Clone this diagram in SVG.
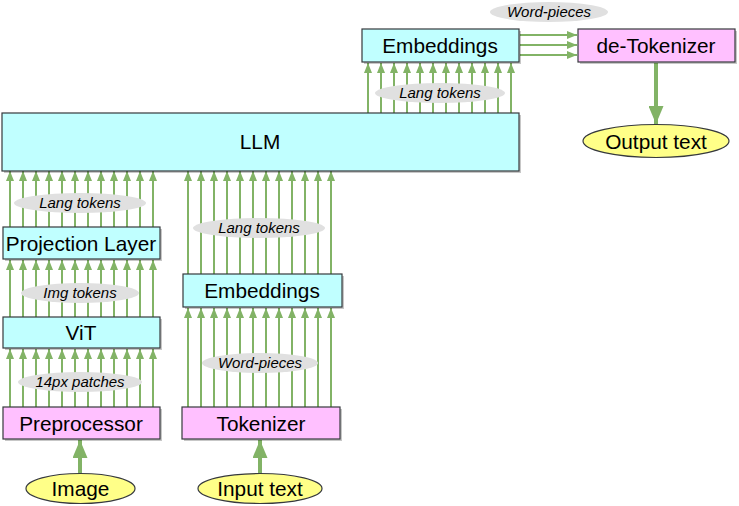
<svg xmlns="http://www.w3.org/2000/svg" width="739" height="506" viewBox="0 0 739 506">
<style>
.box{stroke:#36393d;stroke-width:1.2}
.sh{fill:#000;opacity:0.22}
.cy{fill:#c0ffff}
.pk{fill:#ffc0ff}
.el{fill:#ffff88;stroke:#36393d;stroke-width:1.2}
.t{font-family:"Liberation Sans",Arial,sans-serif;font-size:20.8px;fill:#000;text-anchor:middle}
.lb{font-family:"Liberation Sans",Arial,sans-serif;font-size:15px;font-style:italic;fill:#000;text-anchor:middle}
.lbe{fill:#e0e0e0}
.a{stroke:#82b366;stroke-width:2;fill:none}
.ab{stroke:#82b366;stroke-width:4;fill:none}
</style>
<defs>
<marker id="ah" viewBox="0 0 10 8" refX="10" refY="4" markerWidth="5" markerHeight="4.2" orient="auto" markerUnits="strokeWidth">
<path d="M0,0 L10,4 L0,8 Z" fill="#82b366"/>
</marker>
<marker id="ahb" viewBox="0 0 18 15" refX="18" refY="7.5" markerWidth="4.5" markerHeight="3.75" orient="auto" markerUnits="strokeWidth">
<path d="M0,0 L18,7.5 L0,15 Z" fill="#82b366"/>
</marker>
</defs>

<g id="connectors">
<g marker-end="url(#ah)" class="a">
<path d="M10,407V349"/><path d="M23,407V349"/><path d="M36,407V349"/><path d="M49,407V349"/><path d="M62,407V349"/><path d="M75,407V349"/><path d="M88,407V349"/><path d="M101,407V349"/><path d="M114,407V349"/><path d="M127,407V349"/><path d="M140,407V349"/><path d="M153,407V349"/>
</g>
<g marker-end="url(#ah)" class="a">
<path d="M10,317V260"/><path d="M23,317V260"/><path d="M36,317V260"/><path d="M49,317V260"/><path d="M62,317V260"/><path d="M75,317V260"/><path d="M88,317V260"/><path d="M101,317V260"/><path d="M114,317V260"/><path d="M127,317V260"/><path d="M140,317V260"/><path d="M153,317V260"/>
</g>
<g marker-end="url(#ah)" class="a">
<path d="M10,227V171"/><path d="M23,227V171"/><path d="M36,227V171"/><path d="M49,227V171"/><path d="M62,227V171"/><path d="M75,227V171"/><path d="M88,227V171"/><path d="M101,227V171"/><path d="M114,227V171"/><path d="M127,227V171"/><path d="M140,227V171"/><path d="M153,227V171"/>
</g>
<g marker-end="url(#ah)" class="a">
<path d="M188,407V308"/><path d="M201,407V308"/><path d="M214,407V308"/><path d="M227,407V308"/><path d="M240,407V308"/><path d="M253,407V308"/><path d="M266,407V308"/><path d="M279,407V308"/><path d="M292,407V308"/><path d="M305,407V308"/><path d="M318,407V308"/><path d="M331,407V308"/>
</g>
<g marker-end="url(#ah)" class="a">
<path d="M188,274V171"/><path d="M201,274V171"/><path d="M214,274V171"/><path d="M227,274V171"/><path d="M240,274V171"/><path d="M253,274V171"/><path d="M266,274V171"/><path d="M279,274V171"/><path d="M292,274V171"/><path d="M305,274V171"/><path d="M318,274V171"/><path d="M331,274V171"/>
</g>
<g marker-end="url(#ah)" class="a">
<path d="M368,113V63"/><path d="M381,113V63"/><path d="M394,113V63"/><path d="M407,113V63"/><path d="M420,113V63"/><path d="M433,113V63"/><path d="M446,113V63"/><path d="M459,113V63"/><path d="M472,113V63"/><path d="M485,113V63"/><path d="M498,113V63"/><path d="M511,113V63"/>
</g>
<g marker-end="url(#ah)" class="a">
<path d="M520,35H577"/><path d="M520,45H577"/><path d="M520,55H577"/>
</g>
<path class="ab" marker-end="url(#ahb)" d="M80,474V440"/>
<path class="ab" marker-end="url(#ahb)" d="M260,474V440"/>
<path class="ab" marker-end="url(#ahb)" d="M656,63V124"/>
</g>

<g id="labels">
<ellipse class="lbe" cx="80" cy="203" rx="66" ry="10"/>
<text class="lb" x="80" y="208">Lang tokens</text>
<ellipse class="lbe" cx="80" cy="293" rx="59" ry="10"/>
<text class="lb" x="80" y="298">Img tokens</text>
<ellipse class="lbe" cx="80" cy="382" rx="62" ry="10"/>
<text class="lb" x="80" y="387">14px patches</text>
<ellipse class="lbe" cx="259" cy="228" rx="66" ry="10"/>
<text class="lb" x="259" y="233">Lang tokens</text>
<ellipse class="lbe" cx="260" cy="363" rx="58" ry="10"/>
<text class="lb" x="260" y="368">Word-pieces</text>
<ellipse class="lbe" cx="440" cy="93" rx="65" ry="10"/>
<text class="lb" x="440" y="98">Lang tokens</text>
<ellipse class="lbe" cx="549" cy="12" rx="59" ry="10"/>
<text class="lb" x="549" y="17">Word-pieces</text>
</g>

<g id="llm">
<rect class="sh" x="4" y="115" width="517" height="58"/>
<rect class="box cy" x="2" y="113" width="517" height="58"/>
<text class="t" x="260" y="149">LLM</text>
</g>
<g id="projection">
<rect class="sh" x="5" y="229" width="157" height="32"/>
<rect class="box cy" x="3" y="227" width="157" height="32"/>
<text class="t" x="81" y="250.5">Projection Layer</text>
</g>
<g id="vit">
<rect class="sh" x="5" y="319" width="157" height="31"/>
<rect class="box cy" x="3" y="317" width="157" height="31"/>
<text class="t" x="81" y="340">ViT</text>
</g>
<g id="preprocessor">
<rect class="sh" x="5" y="409" width="157" height="32"/>
<rect class="box pk" x="3" y="407" width="157" height="32"/>
<text class="t" x="81" y="430.5">Preprocessor</text>
</g>
<g id="embeddings-in">
<rect class="sh" x="185" y="276" width="159" height="33"/>
<rect class="box cy" x="183" y="274" width="159" height="33"/>
<text class="t" x="262" y="298">Embeddings</text>
</g>
<g id="tokenizer">
<rect class="sh" x="184" y="409" width="158" height="32"/>
<rect class="box pk" x="182" y="407" width="158" height="32"/>
<text class="t" x="261" y="430.5">Tokenizer</text>
</g>
<g id="embeddings-out">
<rect class="sh" x="364" y="31" width="157" height="33"/>
<rect class="box cy" x="362" y="29" width="157" height="33"/>
<text class="t" x="440" y="53">Embeddings</text>
</g>
<g id="detokenizer">
<rect class="sh" x="580" y="31" width="157" height="33"/>
<rect class="box pk" x="578" y="29" width="157" height="33"/>
<text class="t" x="656" y="53">de-Tokenizer</text>
</g>
<g id="output-text">
<ellipse class="el" cx="656" cy="141" rx="73" ry="16.5"/>
<text class="t" x="656" y="148.5">Output text</text>
</g>
<g id="image">
<ellipse class="el" cx="80.5" cy="488.5" rx="54.5" ry="15"/>
<text class="t" x="80.5" y="496">Image</text>
</g>
<g id="input-text">
<ellipse class="el" cx="260" cy="488.5" rx="62" ry="15"/>
<text class="t" x="260" y="496">Input text</text>
</g>
</svg>
